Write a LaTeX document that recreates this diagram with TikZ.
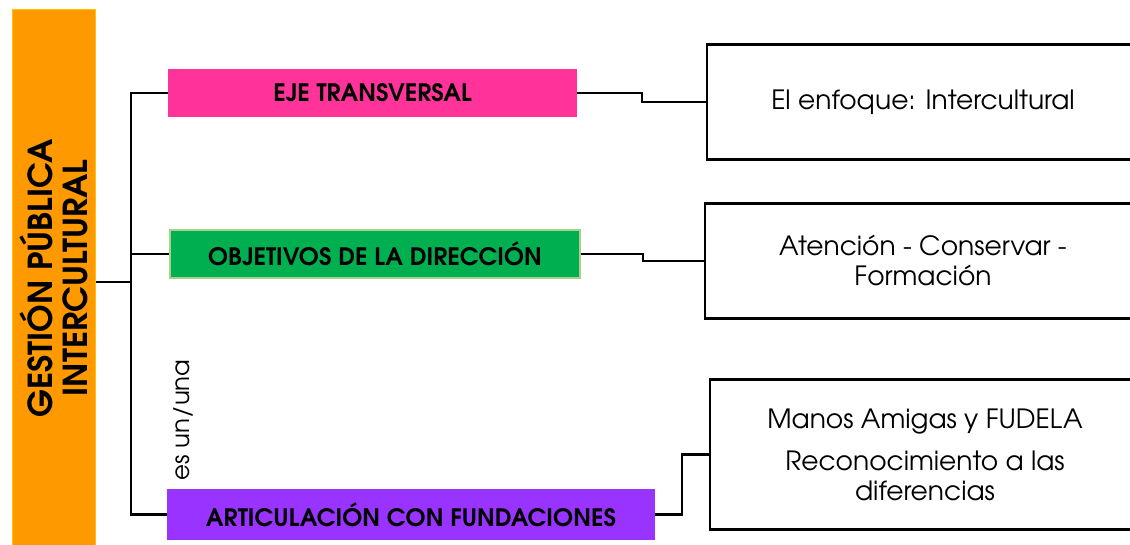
\documentclass[tikz,border=0pt]{standalone}
\usepackage{fontspec}
\setmainfont{TeX Gyre Adventor}
\usetikzlibrary{positioning}
\definecolor{naranja}{HTML}{FF9900}
\definecolor{naranjaborde}{HTML}{FFC000}
\definecolor{rosa}{HTML}{FF3399}
\definecolor{verde}{HTML}{00B050}
\definecolor{verdeborde}{HTML}{A9D18E}
\definecolor{morado}{HTML}{9933FF}
\begin{document}
\begin{tikzpicture}[x=1pt, y=-1pt,
  cat/.style={inner sep=0pt, minimum height=48pt, font=\fontsize{24}{28}\selectfont\bfseries},
  caja/.style={draw, line width=2.5pt, inner sep=0pt, minimum height=115pt, align=center, font=\fontsize{26.5}{30}\selectfont},
  link/.style={line width=2.5pt}]
\useasboundingbox (0,0) rectangle (1130,545);
\node[rotate=90, fill=naranja, draw=naranjaborde, line width=1pt, minimum width=536pt, minimum height=83pt, inner sep=0pt, align=center, font=\fontsize{33}{35}\selectfont\bfseries] (gp) at (53.5,278) {GESTIÓN PÚBLICA\\INTERCULTURAL};
\node[cat, fill=rosa, minimum width=409pt] (eje) at (372.5,93) {EJE TRANSVERSAL};
\node[cat, fill=verde, draw=verdeborde, line width=2pt, minimum width=410pt] (obj) at (375,254) {OBJETIVOS DE LA DIRECCIÓN};
\node[cat, fill=morado, minimum width=488pt, minimum height=51pt] (art) at (411,514.5) {ARTICULACIÓN CON FUNDACIONES};
\node[caja, minimum width=432pt] (enf) at (923,102) {El enfoque: Intercultural};
\node[caja, minimum width=436pt] (ate) at (923,261) {Atención - Conservar -\\Formación};
\node[caja, minimum width=430pt, minimum height=150pt] (fun) at (925,454.5) {Manos Amigas y FUDELA\\[12pt]Reconocimiento a las\\diferencias};
\node[rotate=90, font=\fontsize{24.5}{28}\selectfont] (esun) at (183,420) {es un/una};
% tronco
\coordinate (tr) at (131,282);
\draw[link] (gp.south |- tr) -- (tr);
\draw[link] (eje.west) -| (tr) |- (art.west);
\draw[link] (obj.west) -- (obj.west -| tr);
% ramas
\draw[link] (eje.east) -- ++(65,0) |- (enf.west);
\draw[link] (obj.east) -- ++(62,0) |- (ate.west);
\draw[link] (art.east) -- ++(27,0) |- (fun.west);
\end{tikzpicture}
\end{document}
